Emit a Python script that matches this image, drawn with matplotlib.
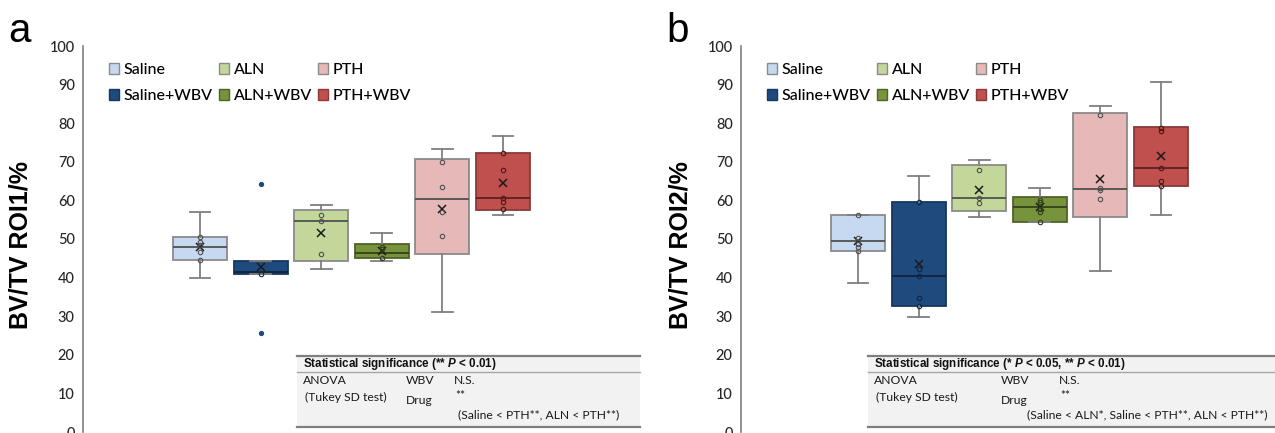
import matplotlib
matplotlib.use('Agg')
import matplotlib.pyplot as plt
from matplotlib.patches import Patch, Rectangle
from matplotlib.lines import Line2D

W, H = 1275, 433

groups = ['Saline', 'Saline+WBV', 'ALN', 'ALN+WBV', 'PTH', 'PTH+WBV']

# panel a: BV/TV ROI1
a_lo = [39.9, 40.9, 42.2, 44.4, 31.0, 56.3]
a_q1 = [44.6, 40.9, 44.2, 45.0, 46.0, 57.6]
a_med = [47.9, 41.4, 54.6, 46.3, 60.3, 60.7]
a_q3 = [50.5, 44.3, 57.5, 48.7, 70.8, 72.2]
a_hi = [57.0, 44.3, 58.8, 51.5, 73.2, 76.7]
a_mean = [48.0, 42.8, 51.5, 47.0, 57.7, 64.4]
a_pts = [[50.5, 49.1, 48.4, 46.7, 44.6], [40.9], [56.1, 54.6, 46.0],
         [47.9, 47.4, 45.0], [70.0, 63.6, 56.9, 50.9], [72.2, 67.8, 60.7, 59.5, 57.7]]
a_out = [[], [64.2, 25.7], [], [], [], []]

# panel b: BV/TV ROI2
b_lo = [38.7, 29.8, 55.6, 54.4, 41.7, 56.2]
b_q1 = [47.0, 32.6, 57.3, 54.5, 55.7, 63.7]
b_med = [49.4, 40.5, 60.6, 58.3, 62.9, 68.3]
b_q3 = [56.1, 59.5, 69.1, 60.9, 82.6, 78.9]
b_hi = [56.1, 66.2, 70.4, 63.2, 84.4, 90.6]
b_mean = [49.6, 43.6, 62.7, 58.2, 65.6, 71.5]
b_pts = [[56.1, 50.3, 48.6, 47.8, 46.9], [59.5, 42.2, 40.5, 34.8, 32.6], [67.9, 60.6, 59.3],
         [60.2, 59.6, 57.9, 57.1, 54.5], [82.0, 63.2, 62.6, 60.3], [78.8, 77.9, 68.3, 65.0, 63.7]]
b_out = [[], [], [], [], [], []]

a_table = ['Statistical significance (** $\\mathit{P}$ < 0.01)',
           '(Saline < PTH**, ALN < PTH**)']
b_table = ['Statistical significance (* $\\mathit{P}$ < 0.05, ** $\\mathit{P}$ < 0.01)',
           '(Saline < ALN*, Saline < PTH**, ALN < PTH**)']

fills = ['#c6d9f1', '#1f4a7d', '#c4d79b', '#77933c', '#e6b9b8', '#c0504d']
edges = ['#8a8a8a', '#17375e', '#8a8a8a', '#4f6228', '#8a8a8a', '#8a3a38']
medc = ['#505050', '#0f243e', '#505050', '#34411a', '#505050', '#5a2220']
ptc = ['#505050', '#10253f', '#505050', '#34411a', '#505050', '#4a1a18']

plt.rcParams['mathtext.fontset'] = 'custom'
plt.rcParams['mathtext.it'] = 'Liberation Sans:italic:bold'
plt.rcParams['mathtext.rm'] = 'Liberation Sans:bold'

fig = plt.figure(figsize=(W / 100, H / 100), dpi=100)


def fx(x):
    return x / W


def fy(y):
    return 1 - y / H


def panel(left, right, lo, q1, med, q3, hi, mean, pts, out, ylabel, letter, lx):
    ax = fig.add_axes([fx(left), fy(432), (right - left) / W, (432 - 46) / H])
    pos = list(range(1, 7))
    stats = []
    for i in range(6):
        stats.append(dict(whislo=lo[i], q1=q1[i], med=med[i], q3=q3[i], whishi=hi[i],
                          mean=mean[i], fliers=out[i], label=groups[i]))
    bp = ax.bxp(stats, positions=pos, widths=0.89, capwidths=0.34, patch_artist=True,
                showmeans=True,
                meanprops=dict(marker='x', markeredgecolor='#1a1a1a', markersize=6, markeredgewidth=1.1),
                flierprops=dict(marker='o', markerfacecolor='#1f4a7d', markeredgecolor='#1f4a7d', markersize=2.8),
                whiskerprops=dict(color='#7f7f7f', linewidth=1.3),
                capprops=dict(color='#7f7f7f', linewidth=1.3),
                zorder=2)
    for i in range(6):
        bp['boxes'][i].set_facecolor(fills[i])
        bp['boxes'][i].set_edgecolor(edges[i])
        bp['boxes'][i].set_linewidth(1.3)
        bp['medians'][i].set_color(medc[i])
        bp['medians'][i].set_linewidth(1.3)
        ax.plot([pos[i]] * len(pts[i]), pts[i], 'o', markersize=3.2, markerfacecolor='none',
                markeredgecolor=ptc[i], markeredgewidth=0.8, zorder=4)
    ax.set_xlim(1 - 117 / 60.6, 1 + (right - left - 117) / 60.6)
    ax.set_ylim(0, 100)
    ax.set_yticks(range(0, 101, 10))
    ax.set_xticks([])
    ax.tick_params(axis='y', length=0, pad=6, labelsize=10.5, labelcolor='#262626')
    for t in ax.get_yticklabels():
        t.set_fontfamily('Lato')
        t.set_fontweight('medium')
    for s in ['top', 'right', 'bottom']:
        ax.spines[s].set_visible(False)
    ax.spines['left'].set_color('#7f7f7f')
    ax.spines['left'].set_linewidth(1.2)
    ax.patch.set_alpha(0)
    ax.set_ylabel(ylabel, fontsize=18, fontweight='bold', family='Liberation Sans')
    ax.yaxis.set_label_coords((lx - left) / (right - left), 0.485)
    fig.text(fx(left - 75), fy(42), letter, fontsize=29, family='Liberation Sans', va='baseline')

    handles = [Patch(facecolor=fills[i], edgecolor=edges[i], linewidth=1.0) for i in range(6)]
    ax.legend(handles, groups, ncol=3, loc='upper left',
              bbox_to_anchor=(fx(left + 18), fy(55)), bbox_transform=fig.transFigure,
              frameon=False, borderpad=0, handlelength=0.62, handleheight=0.62,
              handletextpad=0.3, columnspacing=0.4, labelspacing=0.75,
              prop=dict(family='Lato', size=11.5, weight='medium'))
    return ax


def table(x0, x1, header, note, col2, col3, note_x):
    fig.patches.append(Rectangle((fx(x0), fy(427)), fx(x1) - fx(x0), (427 - 355.5) / H,
                                 transform=fig.transFigure, facecolor='#f2f2f2',
                                 edgecolor='none', zorder=0))
    for y, c, lw in [(355.5, '#7f7f7f', 1.6), (372, '#a6a6a6', 1.0), (427, '#7f7f7f', 1.6)]:
        fig.add_artist(Line2D([fx(x0), fx(x1)], [fy(y), fy(y)], color=c, linewidth=lw))
    fig.text(fx(x0 + 6), fy(364), header, fontsize=8.4, fontweight='bold',
             family='Liberation Sans', va='center', color='#111111')
    body = dict(fontsize=8.7, family='Lato', va='center', color='#1a1a1a')
    fig.text(fx(x0 + 6), fy(381), 'ANOVA', **body)
    fig.text(fx(x0 + 8), fy(397.5), '(Tukey SD test)', **body)
    fig.text(fx(col2), fy(381), 'WBV', **body)
    fig.text(fx(col2), fy(400), 'Drug', **body)
    fig.text(fx(col3), fy(381), 'N.S.', **body)
    fig.text(fx(col3 + 1), fy(396), '**', **body)
    fig.text(fx(note_x), fy(415), note, **body)


panel(83, 640, a_lo, a_q1, a_med, a_q3, a_hi, a_mean, a_pts, a_out, 'BV/TV ROI1/%', 'a', 33)
panel(741, 1275, b_lo, b_q1, b_med, b_q3, b_hi, b_mean, b_pts, b_out, 'BV/TV ROI2/%', 'b', 693)
table(297, 640, a_table[0], a_table[1], 406, 454, 458)
table(868, 1275, b_table[0], b_table[1], 1001, 1059, 1027)

fig.savefig('out.png', dpi=100)
